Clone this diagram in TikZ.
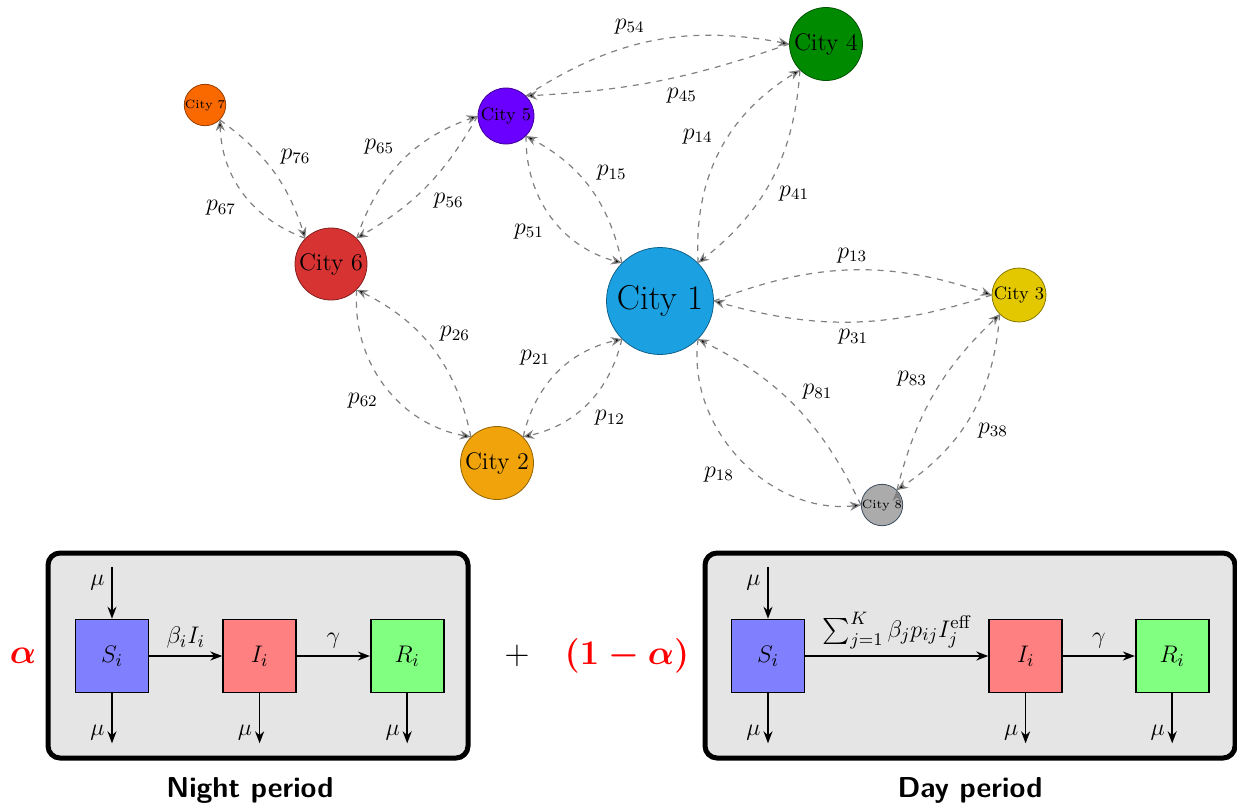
\documentclass[tikz,border=0pt]{standalone}
\usepackage{amsmath,amssymb}
\usetikzlibrary{arrows.meta,positioning}

\definecolor{cityone}{HTML}{1BA1E2}
\definecolor{citytwo}{HTML}{F0A30A}
\definecolor{citythree}{HTML}{E3C800}
\definecolor{cityfour}{HTML}{008A00}
\definecolor{cityfive}{HTML}{6A00FF}
\definecolor{citysix}{HTML}{D83333}
\definecolor{cityseven}{HTML}{FA6800}
\definecolor{cityeight}{HTML}{ABABAB}
\definecolor{slate}{HTML}{3B4C5E}

\begin{document}
\begin{tikzpicture}[x=0.5pt,y=-0.5pt,auto,node distance=36.5pt,
    city/.style={circle,draw=#1!60!black,fill=#1,inner sep=0pt},
    flow/.style={->,>={Stealth[length=5.5pt,width=4.5pt]},dashed,draw=gray,semithick},
    comp/.style={draw,thick,minimum size=36.5pt,inner sep=0pt},
    sir/.style={->,>={Stealth[length=6pt,width=4.5pt]},thick},
    panel/.style={draw,line width=2.5pt,rounded corners=6pt,fill=gray!20}]
  \useasboundingbox (0,0) rectangle (1237,809);

  % cities
  \node[city=cityone,minimum size=53.5pt,font=\LARGE] (c1) at (660,301) {City 1};
  \node[city=citytwo,minimum size=36.5pt,font=\large] (c2) at (497,463) {City 2};
  \node[city=citythree,minimum size=27pt,font=\small] (c3) at (1019,295) {City 3};
  \node[city=cityfour,minimum size=36.5pt,font=\large] (c4) at (826,44) {City 4};
  \node[city=cityfive,minimum size=28pt,font=\small] (c5) at (506,116) {City 5};
  \node[city=citysix,minimum size=36pt,font=\large] (c6) at (331,264) {City 6};
  \node[city=cityseven,minimum size=19pt,font=\fontsize{6}{7}\selectfont] (c7) at (205,105) {City 7};
  \node[city=cityeight,draw=slate,minimum size=18pt,font=\fontsize{6}{7}\selectfont] (c8) at (882,505) {City 8};

  \path[flow,font=\large]
    (c1.east) edge [bend left=20] node {$p_{13}$} (c3.west)
    (c3.west) edge [bend left=17] node {$p_{31}$} (c1.east)
    (c1.north east) edge [bend left=31] node {$p_{14}$} (c4.south west)
    (c4.south west) edge [bend left=24] node {$p_{41}$} (c1.north east)
    (c1.north west) edge [bend right=25] node [swap] {$p_{15}$} (c5.south east)
    (c5.south east) edge [bend right=38] node [swap] {$p_{51}$} (c1.north west)
    (c1.south west) edge [bend left=32] node {$p_{12}$} (c2.north east)
    (c2.north east) edge [bend left=32] node {$p_{21}$} (c1.south west)
    (c1.south east) edge [bend right=52] node [swap] {$p_{18}$} (c8.west)
    (c8.west) edge [bend right=19] node [swap] {$p_{81}$} (c1.south east)
    (c5.north east) edge [bend left=22] node {$p_{54}$} (c4.west)
    (c4.west) edge [bend left=8] node {$p_{45}$} (c5.north east)
    (c5.west) edge [bend left=15] node {$p_{56}$} (c6.north east)
    (c6.north east) edge [bend left=26] node {$p_{65}$} (c5.west)
    (c7.south east) edge [bend left=18] node {$p_{76}$} (c6.north west)
    (c6.north west) edge [bend left=34] node {$p_{67}$} (c7.south east)
    (c6.south east) edge [bend right=42] node [swap] {$p_{62}$} (c2.north west)
    (c2.north west) edge [bend right=26] node [swap] {$p_{26}$} (c6.south east)
    (c3.south west) edge [bend left=26] node {$p_{38}$} (c8.north east)
    (c8.north east) edge [bend left=16] node {$p_{83}$} (c3.south west);

  \begin{scope}[font=\fontsize{13}{16}\selectfont]
    % night period
    \draw[panel] (48,553) rectangle (468,758);
    \node[comp,fill=blue!50] (Sn) at (112,656) {$S_i$};
    \node[comp,fill=red!50,right=of Sn] (In) {$I_i$};
    \node[comp,fill=green!50,right=of In] (Rn) {$R_i$};
    \coordinate[above=26pt of Sn] (bSn);
    \coordinate[below=25pt of Sn] (dSn);
    \coordinate[below=25pt of In] (dIn);
    \coordinate[below=25pt of Rn] (dRn);
    \path[sir]
      (bSn) edge node [left,pos=0.3] {$\mu$} (Sn)
      (Sn) edge node {$\beta_i I_i$} (In)
      (In) edge node {$\gamma$} (Rn)
      (Sn) edge node [left,pos=0.78] {$\mu$} (dSn)
      (In) edge node [left,pos=0.78] {$\mu$} (dIn)
      (Rn) edge node [left,pos=0.78] {$\mu$} (dRn);

    % day period
    \draw[panel] (705,553) rectangle (1235,758);
    \node[comp,fill=blue!50] (Sd) at (768,656) {$S_i$};
    \node[comp,fill=red!50,right=91.5pt of Sd] (Id) {$I_i$};
    \node[comp,fill=green!50,right=36pt of Id] (Rd) {$R_i$};
    \coordinate[above=26pt of Sd] (bSd);
    \coordinate[below=25pt of Sd] (dSd);
    \coordinate[below=25pt of Id] (dId);
    \coordinate[below=25pt of Rd] (dRd);
    \path[sir]
      (bSd) edge node [left,pos=0.3] {$\mu$} (Sd)
      (Sd) edge node {$\sum_{j=1}^{K}\beta_j p_{ij} I_j^{\text{eff}}$} (Id)
      (Id) edge node {$\gamma$} (Rd)
      (Sd) edge node [left,pos=0.78] {$\mu$} (dSd)
      (Id) edge node [left,pos=0.78] {$\mu$} (dId)
      (Rd) edge node [left,pos=0.78] {$\mu$} (dRd);
  \end{scope}

  \node[text=red,font=\LARGE] (alpha) at (23,656) {$\boldsymbol{\alpha}$};
  \node[font=\LARGE] (plus) at (517,656) {$+$};
  \node[text=red,font=\LARGE] (oneminus) at (627,656) {$\boldsymbol{(1-\alpha)}$};
  \node[font=\sffamily\bfseries\Large] (night) at (250,790) {Night period};
  \node[font=\sffamily\bfseries\Large] (day) at (970,790) {Day period};
\end{tikzpicture}
\end{document}
